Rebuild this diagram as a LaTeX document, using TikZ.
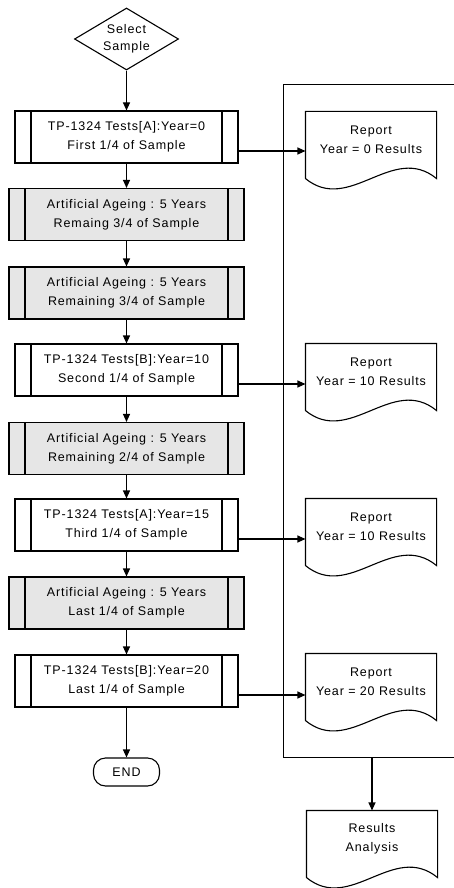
\documentclass[tikz,border=0pt]{standalone}
\usepackage{fontspec}
\setmainfont{Liberation Sans}[LetterSpace=7]
\usetikzlibrary{arrows.meta,shapes.geometric}
\definecolor{AgeGray}{HTML}{E6E6E6}

\begin{document}
\begin{tikzpicture}[x=1pt,y=-1pt,line width=1.1pt,
    every node/.style={font=\fontsize{12.5}{19}\selectfont,align=center},
    flow/.style={-{Triangle[length=8pt,width=7pt]}},
    testbox/.style={draw,minimum width=223pt,minimum height=52pt,inner sep=0pt,
      path picture={\draw
        ([xshift=16pt]path picture bounding box.north west) -- ([xshift=16pt]path picture bounding box.south west)
        ([xshift=-16pt]path picture bounding box.north east) -- ([xshift=-16pt]path picture bounding box.south east);}},
    agebox/.style={testbox,fill=AgeGray,minimum width=235pt},
    report/.style={minimum width=130pt,minimum height=56pt,inner sep=0pt,
      append after command={\pgfextra{\draw
        ([yshift=-10pt]\tikzlastnode.south west) -- (\tikzlastnode.north west)
        -- (\tikzlastnode.north east) -- ([yshift=-10pt]\tikzlastnode.south east)
        .. controls +(-44,-36) and +(44,36) .. ([yshift=-10pt]\tikzlastnode.south west);}}}]
  \useasboundingbox (0,0) rectangle (453,888);

  \node[draw,diamond,aspect=1.7,inner sep=0pt,minimum width=104pt,minimum height=62pt,
    font=\fontsize{12.5}{17}\selectfont] (select) at (126.5,39) {Select\\Sample};

  \node[testbox] (test0) at (126.5,137) {TP-1324 Tests[A]:Year=0\\First 1/4 of Sample};
  \node[agebox] (age1) at (126.5,214.5) {Artificial Ageing : 5 Years\\Remaing 3/4 of Sample};
  \node[agebox] (age2) at (126.5,293) {Artificial Ageing : 5 Years\\Remaining 3/4 of Sample};
  \node[testbox] (test10) at (126.5,370) {TP-1324 Tests[B]:Year=10\\Second 1/4 of Sample};
  \node[agebox] (age3) at (126.5,448.5) {Artificial Ageing : 5 Years\\Remaining 2/4 of Sample};
  \node[testbox] (test15) at (126.5,525) {TP-1324 Tests[A]:Year=15\\Third 1/4 of Sample};
  \node[agebox] (age4) at (126.5,603) {Artificial Ageing : 5 Years\\Last 1/4 of Sample};
  \node[testbox] (test20) at (126.5,681) {TP-1324 Tests[B]:Year=20\\Last 1/4 of Sample};

  \node[draw,rounded corners=12pt,minimum width=66pt,minimum height=28pt,inner sep=0pt]
    (stop) at (126.5,772) {END};

  \node[draw,anchor=north west,inner sep=0pt,minimum width=180pt,minimum height=673pt]
    (frame) at (283,84) {};

  \node[report] (rep0) at (371,140) {Report\\Year = 0 Results};
  \node[report] (rep10) at (371,372) {Report\\Year = 10 Results};
  \node[report] (rep15) at (371,527) {Report\\Year = 10 Results};
  \node[report] (rep20) at (371,682) {Report\\Year = 20 Results};
  \node[report] (analysis) at (372,839) {Results\\Analysis};

  \draw[flow] (select) -- (test0);
  \foreach \a/\b in {test0/age1,age1/age2,age2/test10,test10/age3,age3/test15,
      test15/age4,age4/test20,test20/stop}
    \draw[flow] (\a) -- (\b);

  \foreach \t/\r in {test0/rep0,test10/rep10,test15/rep15,test20/rep20}
    \draw[flow] ([yshift=-14pt]\t.east) -- ([yshift=-14pt]\t.east -| \r.west);

  \draw[flow] (frame.south -| analysis.north) -- (analysis.north);
\end{tikzpicture}
\end{document}
